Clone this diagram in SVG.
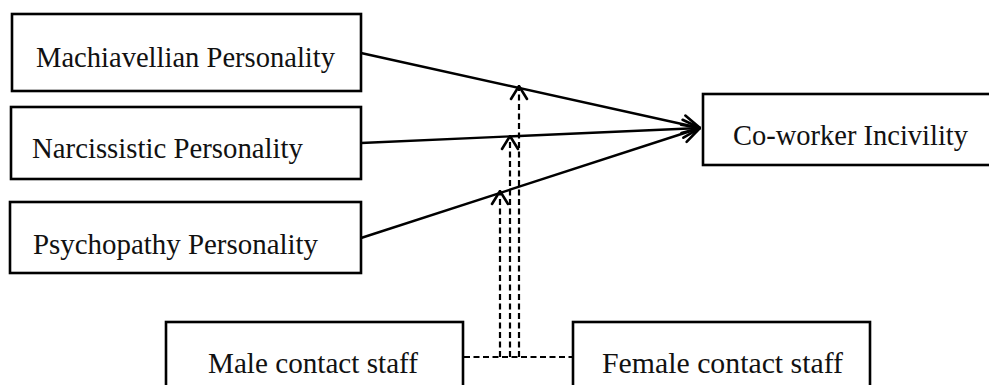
<svg xmlns="http://www.w3.org/2000/svg" width="989" height="385" viewBox="0 0 989 385">
<style>
.box{fill:#fff;stroke:#000;stroke-width:2.6}
.t{font-family:"Liberation Serif","Times New Roman",serif;font-size:29px;fill:#111}
.ln{stroke:#000;stroke-width:2.4;fill:none}
.ds{stroke:#000;stroke-width:2.2;fill:none;stroke-dasharray:6,3.5}
.ah{stroke:#000;stroke-width:2.6;fill:none;stroke-linecap:round;stroke-linejoin:miter}
</style>
<defs>
<marker id="big" viewBox="0 0 20 22" markerWidth="20" markerHeight="22" refX="19" refY="11" orient="auto" markerUnits="userSpaceOnUse">
<path d="M2,2 L19,11 L2,20" class="ah"/>
</marker>
<marker id="small" viewBox="0 0 16 20" markerWidth="16" markerHeight="20" refX="15" refY="10" orient="auto" markerUnits="userSpaceOnUse">
<path d="M2,2 L15,10 L2,18" class="ah"/>
</marker>
</defs>
<rect width="989" height="385" fill="#fff"/>
<g id="connectors">
<line class="ln" x1="361" y1="53" x2="700" y2="128" marker-end="url(#big)"/>
<line class="ln" x1="361" y1="143" x2="700" y2="128" marker-end="url(#big)"/>
<line class="ln" x1="361" y1="238" x2="700" y2="128" marker-end="url(#big)"/>
<line class="ds" x1="464" y1="357" x2="572" y2="357"/>
<line class="ds" x1="519" y1="357" x2="519" y2="86" marker-end="url(#small)"/>
<line class="ds" x1="510" y1="357" x2="510" y2="136" marker-end="url(#small)"/>
<line class="ds" x1="500" y1="357" x2="500" y2="191" marker-end="url(#small)"/>
</g>
<g id="machiavellian">
<rect class="box" x="12" y="14" width="349" height="77"/>
<text class="t" x="36" y="67" textLength="299" lengthAdjust="spacingAndGlyphs">Machiavellian Personality</text>
</g>
<g id="narcissistic">
<rect class="box" x="11" y="107" width="350" height="72"/>
<text class="t" x="32" y="158" textLength="271" lengthAdjust="spacingAndGlyphs">Narcissistic Personality</text>
</g>
<g id="psychopathy">
<rect class="box" x="10" y="202" width="351" height="71"/>
<text class="t" x="33" y="254" textLength="285" lengthAdjust="spacingAndGlyphs">Psychopathy Personality</text>
</g>
<g id="coworker">
<rect class="box" x="703" y="94" width="300" height="71"/>
<text class="t" x="733" y="145" textLength="235" lengthAdjust="spacingAndGlyphs">Co-worker Incivility</text>
</g>
<g id="male">
<rect class="box" x="166" y="322" width="297" height="90"/>
<text class="t" x="208" y="373" textLength="210" lengthAdjust="spacingAndGlyphs">Male contact staff</text>
</g>
<g id="female">
<rect class="box" x="573" y="322" width="297" height="90"/>
<text class="t" x="602" y="373" textLength="241" lengthAdjust="spacingAndGlyphs">Female contact staff</text>
</g>
</svg>
